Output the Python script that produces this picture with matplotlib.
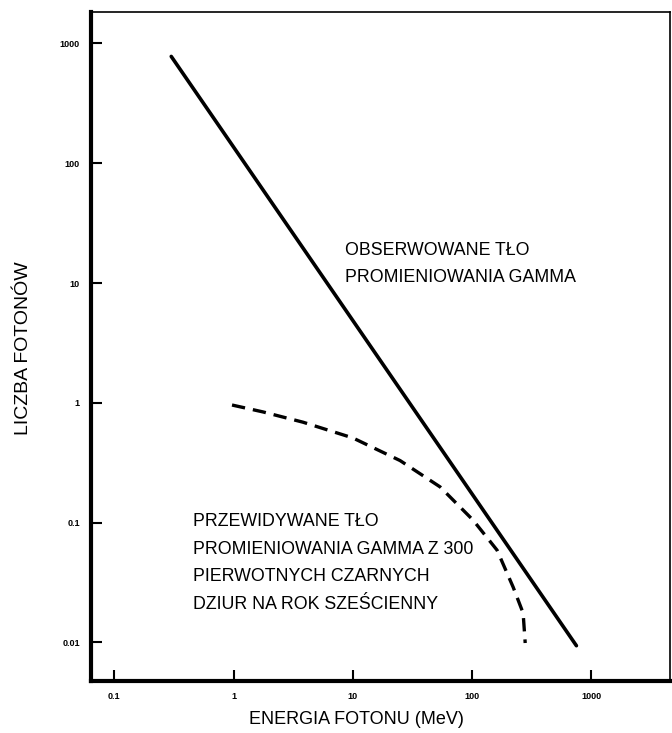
import matplotlib
matplotlib.use('Agg')
import matplotlib.pyplot as plt
from matplotlib import font_manager

# Dane (skala log-log)
energia_obs = [0.30, 750]
fotony_obs = [780, 0.0094]

energia_pred = [0.97, 1.77, 3.82, 10.0, 24.9, 53.9, 102, 162, 221, 268, 279]
fotony_pred = [0.96, 0.84, 0.69, 0.51, 0.33, 0.199, 0.105, 0.059, 0.029, 0.0176, 0.0099]

x_ticks = [0.1, 1, 10, 100, 1000]
x_labels = ['0.1', '1', '10', '100', '1000']
y_ticks = [0.01, 0.1, 1, 10, 100, 1000]
y_labels = ['0.01', '0.1', '1', '10', '100', '1000']

tekst_obs = 'OBSERWOWANE TŁO\nPROMIENIOWANIA GAMMA'
tekst_pred = ('PRZEWIDYWANE TŁO\nPROMIENIOWANIA GAMMA Z 300\n'
              'PIERWOTNYCH CZARNYCH\nDZIUR NA ROK SZEŚCIENNY')

dostepne = {f.name for f in font_manager.fontManager.ttflist}
rodzina = [f for f in ['Liberation Sans Narrow', 'Liberation Sans', 'DejaVu Sans'] if f in dostepne]
plt.rcParams['font.family'] = rodzina

fig = plt.figure(figsize=(6.72, 7.33), dpi=100)
ax = fig.add_axes([91/672, 1 - 681/733, (670 - 91)/672, (681 - 12)/733])

ax.plot(energia_obs, fotony_obs, color='black', lw=2.6, solid_capstyle='round')
ax.plot(energia_pred, fotony_pred, color='black', lw=2.4, dashes=(4, 2.4))

ax.set_xscale('log')
ax.set_yscale('log')
ax.set_xlim(0.0637, 4570)
ax.set_ylim(0.00477, 1832)

ax.set_xticks(x_ticks)
ax.set_xticklabels(x_labels, fontsize=6.5, fontweight='bold')
ax.set_yticks(y_ticks)
ax.set_yticklabels(y_labels, fontsize=6.5, fontweight='bold')
ax.minorticks_off()
ax.tick_params(direction='in', length=8, width=1.5, pad=8)

for s in ['left', 'bottom']:
    ax.spines[s].set_linewidth(3)
for s in ['top', 'right']:
    ax.spines[s].set_linewidth(1.2)

ax.text(8.6, 14.4, tekst_obs, fontsize=12.8, va='center', ha='left', linespacing=1.8)
ax.text(0.456, 0.0461, tekst_pred, fontsize=12.8, va='center', ha='left', linespacing=1.8)

fig.text(356/672, 1 - 720/733, 'ENERGIA FOTONU (MeV)', fontsize=13, ha='center', va='center')
fig.text(23/672, 1 - 348/733, 'LICZBA FOTONÓW', fontsize=14, ha='center', va='center', rotation=90)

plt.savefig('out.png', dpi=100)
